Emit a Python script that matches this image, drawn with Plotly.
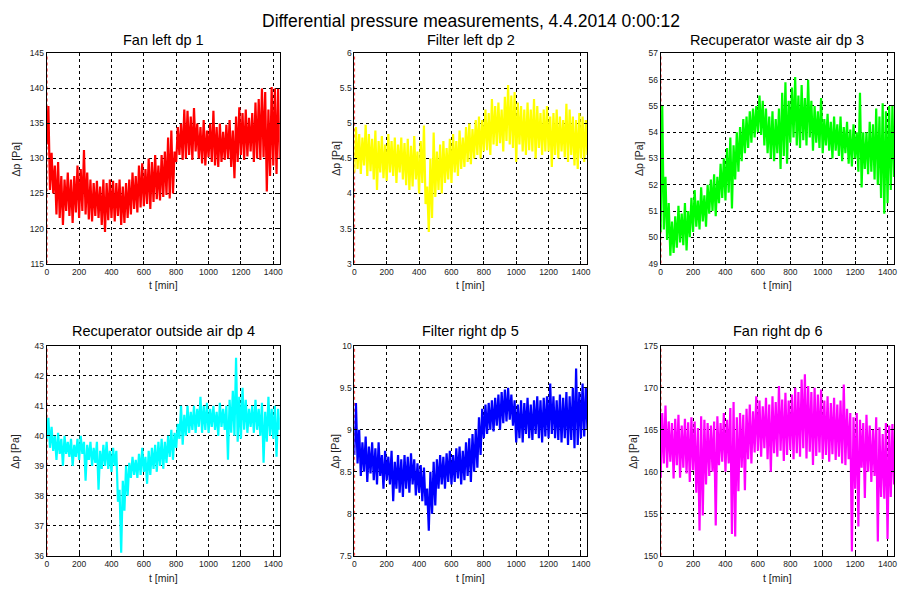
import plotly.graph_objects as go

# Sample times (minutes): troughs on the even 20-min marks, peaks in between
T_LO = list(range(0, 1441, 20))
T_HI = list(range(10, 1431, 20))

TITLES = ["Fan left dp 1", "Filter left dp 2", "Recuperator waste air dp 3",
          "Recuperator outside air dp 4", "Filter right dp 5", "Fan right dp 6"]
COLORS = ["#FF0000", "#FFFF00", "#00FF00", "#00FFFF", "#0000FF", "#FF00FF"]
Y_RANGES = [(115, 145), (3, 6), (49, 57), (36, 43), (7.5, 10), (150, 175)]
Y_DTICK = [5, 0.5, 1, 1, 0.5, 5]
X_TICKS = [0, 200, 400, 600, 800, 1000, 1200, 1400]
X_RANGE = (0, 1440)

# dp 1 - fan left
DP1_LO = [132, 125.5, 125, 122, 121.5, 120.5, 122.5, 121.8, 120.8, 122.3,
          121.5, 122.5, 122, 121.3, 121, 121.8, 121.5, 120.5, 119.5, 121.2,
          121.5, 121, 121.8, 120.5, 120.8, 121.5, 122, 122.8, 122.3, 123,
          123.2, 123.5, 122.8, 123.8, 124.2, 124, 124.5, 124.8, 124.3, 125,
          129.5, 130.5, 129.8, 130, 130.5, 129.8, 131, 130, 129.3, 129,
          130.2, 129.5, 129, 128.8, 129.5, 129.8, 130, 128.8, 127.2, 129.5,
          130.5, 129.8, 130.3, 131, 129.5, 130, 129.8, 130.2, 125.3, 127.5,
          129, 127.8, 130]
DP1_HI = [137.5, 130.8, 129, 129.5, 127.5, 127, 128, 127, 127.5, 129,
          128.5, 131.2, 128, 127, 126.5, 126.8, 126, 127, 126.5, 127,
          126.8, 126.5, 127, 126, 126.5, 127, 128, 127.5, 129, 129.3,
          128.5, 130, 129.5, 130.5, 129, 130.5, 131, 133, 134, 131,
          134.5, 135, 137, 136.8, 136, 137.2, 135, 134.5, 135.5, 134,
          135, 136.8, 134.5, 135, 133.8, 134.8, 135.5, 134, 136, 137.3,
          136.5, 137, 135.8, 136.5, 138, 138.5, 140, 139.5, 137, 140.2,
          140, 140]

# dp 2 - filter left
DP2_LO = [4.3, 4.35, 4.28, 4.4, 4.25, 4.32, 4.2, 4.05, 4.3, 4.22,
          4.18, 4.3, 4.25, 4.15, 4.3, 4.2, 4.12, 4.05, 4.1, 4.2,
          4.0, 4.15, 3.85, 3.45, 3.65, 3.95, 4.05, 4.0, 4.15, 4.2,
          4.15, 4.3, 4.25, 4.35, 4.38, 4.45, 4.42, 4.5, 4.55, 4.5,
          4.6, 4.62, 4.55, 4.7, 4.68, 4.72, 4.6, 4.75, 4.7, 4.65,
          4.45, 4.7, 4.6, 4.55, 4.62, 4.6, 4.5, 4.65, 4.55, 4.6,
          4.6, 4.38, 4.55, 4.5, 4.6, 4.52, 4.45, 4.55, 4.4, 4.35,
          4.5, 4.45, 4.55]
DP2_HI = [4.95, 4.85, 4.8, 4.98, 4.85, 4.78, 4.9, 4.75, 4.82, 4.7,
          4.85, 4.75, 4.8, 4.7, 4.8, 4.72, 4.78, 4.68, 4.82, 4.6,
          4.75, 4.97, 4.1, 4.5, 4.87, 4.6, 4.7, 4.75, 4.65, 4.78,
          4.85, 4.75, 4.9, 4.8, 4.95, 5.0, 4.92, 5.05, 5.1, 5.05,
          5.2, 5.15, 5.35, 5.25, 5.3, 5.2, 5.38, 5.55, 5.4, 5.45,
          5.3, 5.25, 5.2, 5.3, 5.2, 5.35, 5.25, 5.15, 5.2, 5.25,
          5.1, 5.15, 5.2, 5.1, 5.05, 5.28, 5.2, 5.1, 5.05, 5.15,
          5.1, 5.05]

# dp 3 - recuperator waste air
DP3_LO = [50.2, 50.3, 49.9, 49.3, 49.4, 49.6, 49.8, 49.7, 49.5, 50.0,
          50.2, 50.4, 50.3, 50.6, 50.4, 50.9, 51.0, 50.8, 51.3, 51.5,
          51.4, 51.7, 51.1, 52.2, 52.5, 52.9, 53.2, 53.4, 53.6, 53.8,
          54.0, 53.9, 53.5, 53.2, 53.0, 52.9, 53.2, 52.6, 53.1, 52.8,
          53.6, 53.8, 53.5, 53.4, 53.7, 53.5, 53.8, 53.3, 53.6, 53.4,
          53.2, 53.5, 53.3, 53.0, 53.3, 53.1, 52.9, 53.2, 52.8, 52.7,
          53.0, 52.5, 51.9, 52.6, 52.4, 52.5, 52.2, 52.0, 51.5, 50.9,
          51.3, 51.8, 52.3]
DP3_HI = [55.0, 52.3, 51.3, 50.6, 50.8, 51.2, 50.9, 51.3, 51.0, 51.5,
          51.8, 51.4, 51.9, 51.6, 52.0, 52.2, 52.4, 52.3, 52.8, 53.0,
          53.4, 53.8, 53.5, 54.0, 54.2, 54.5, 54.6, 54.8, 54.9, 55.0,
          55.4, 55.2, 54.9, 54.6, 54.8, 54.5, 54.9, 55.5, 55.9, 55.2,
          55.7, 56.1, 55.4, 55.8, 55.3, 56.0, 55.2, 55.0, 54.8, 55.3,
          54.5, 54.7, 54.4, 54.6, 54.3, 54.6, 54.2, 54.4, 54.1, 54.3,
          54.0, 55.5, 54.0, 54.0, 54.4, 54.3, 54.9, 54.6, 55.1, 54.8,
          55.0, 55.0]

# dp 4 - recuperator outside air
DP4_LO = [39.9, 39.6, 39.5, 39.2, 39.4, 39.0, 39.4, 39.3, 39.0, 39.3,
          39.2, 39.4, 38.5, 39.2, 39.0, 39.1, 38.2, 38.9, 39.0, 38.9,
          38.8, 39.0, 37.8, 36.1, 37.5, 38.0, 38.6, 38.7, 38.6, 38.7,
          38.8, 38.4, 38.7, 38.9, 38.8, 39.0, 38.9, 39.1, 39.3, 39.2,
          39.6, 39.9, 39.7, 40.0, 40.1, 40.2, 40.1, 40.3, 40.1, 40.2,
          40.1, 40.3, 40.2, 40.0, 40.3, 40.2, 39.2, 40.1, 40.0, 39.8,
          39.9, 40.2, 40.1, 40.3, 40.1, 40.2, 40.0, 39.1, 39.8, 40.0,
          39.9, 39.3, 40.2]
DP4_HI = [40.6, 40.3, 40.0, 40.1, 39.9, 40.0, 39.8, 39.9, 39.7, 39.9,
          40.0, 39.8, 39.7, 39.8, 39.6, 39.8, 39.5, 39.7, 39.8, 39.5,
          39.6, 39.5, 38.2, 38.5, 39.0, 39.1, 39.3, 39.2, 39.4, 39.6,
          39.3, 39.5, 39.6, 39.7, 39.8, 39.9, 39.8, 40.0, 40.2, 40.1,
          40.4, 41.0, 40.7, 41.0, 40.8, 41.0, 40.9, 41.3, 41.0, 41.1,
          40.9, 41.0, 40.8, 41.1, 40.9, 41.0, 41.2, 41.5, 42.6, 41.3,
          41.6, 41.2, 40.9, 41.0, 41.2, 40.9, 41.1, 40.8, 41.3, 40.9,
          41.0, 40.9]

# dp 5 - filter right
DP5_LO = [8.7, 8.6, 8.45, 8.5, 8.38, 8.48, 8.4, 8.35, 8.45, 8.3,
          8.4, 8.35, 8.15, 8.3, 8.25, 8.2, 8.3, 8.25, 8.35, 8.22,
          8.25, 8.15, 8.1, 7.8, 8.0, 8.1, 8.3, 8.35, 8.3, 8.38,
          8.35, 8.38, 8.42, 8.35, 8.4, 8.45, 8.38, 8.5, 8.55, 8.7,
          8.9, 8.95, 9.0, 8.98, 9.05, 9.0, 9.08, 9.1, 9.12, 9.05,
          8.85, 8.9, 8.85, 8.95, 8.9, 8.88, 8.95, 8.9, 8.85, 8.92,
          8.9, 8.95, 8.9, 8.88, 8.85, 8.9, 8.82, 8.88, 8.78, 8.82,
          8.9, 8.92, 9.0]
DP5_HI = [9.32, 9.0, 8.85, 8.92, 8.8, 8.85, 8.78, 8.85, 8.7, 8.75,
          8.68, 8.75, 8.62, 8.7, 8.65, 8.7, 8.68, 8.72, 8.65, 8.6,
          8.58, 8.55, 8.3, 8.5, 8.62, 8.65, 8.7, 8.68, 8.72, 8.75,
          8.7, 8.78, 8.8, 8.75, 8.85, 8.9, 8.95, 9.0, 9.15, 9.25,
          9.3, 9.32, 9.35, 9.38, 9.42, 9.45, 9.48, 9.5, 9.42, 9.35,
          9.3, 9.35, 9.32, 9.38, 9.3, 9.35, 9.4, 9.35, 9.38, 9.4,
          9.55, 9.4, 9.35, 9.42, 9.38, 9.45, 9.4, 9.5, 9.73, 9.45,
          9.55, 9.5]

# dp 6 - fan right
DP6_LO = [159.3, 161.0, 160.5, 161.2, 159.2, 160.8, 159.3, 160.5, 159.8, 158.8,
          160.2, 157.5, 153.0, 154.8, 158.5, 159.5, 160.0, 153.6, 160.8, 161.2,
          160.0, 161.0, 152.6, 152.3, 157.7, 160.5, 157.8, 161.5, 161.0, 162.3,
          162.5, 161.8, 162.8, 161.5, 160.0, 162.2, 161.8, 162.5, 161.3, 162.0,
          162.6, 161.5, 162.2, 161.8, 162.8, 161.6, 162.4, 160.8, 161.9, 162.3,
          161.5, 162.0, 161.2, 162.1, 161.4, 161.8, 161.0, 160.8, 161.5, 150.5,
          158.0, 153.5, 160.5, 156.9, 160.0, 158.8, 159.5, 151.7, 157.0, 156.8,
          152.0, 157.0, 158.5]
DP6_HI = [167.0, 167.9, 166.0, 165.8, 166.3, 166.8, 165.5, 166.3, 165.9, 166.5,
          166.0, 165.2, 166.6, 166.2, 165.8, 165.5, 166.0, 166.6, 165.8, 167.0,
          166.2, 167.6, 168.3, 166.5, 167.0, 166.8, 167.5, 168.0, 167.2, 169.0,
          168.5, 167.8, 168.8, 168.0, 169.0, 168.3, 170.2, 168.6, 169.4, 168.5,
          169.2, 170.0, 169.5, 171.0, 171.6, 170.2, 169.5, 170.0, 169.2, 169.8,
          168.5, 169.0, 168.2, 168.8, 168.0, 168.5, 170.4, 167.5, 167.0, 166.5,
          167.0, 166.2, 165.8, 166.8, 165.5, 165.0, 166.5, 165.3, 164.5, 165.8,
          165.5, 165.7]

SERIES = [(DP1_LO, DP1_HI), (DP2_LO, DP2_HI), (DP3_LO, DP3_HI),
          (DP4_LO, DP4_HI), (DP5_LO, DP5_HI), (DP6_LO, DP6_HI)]

# ---- page geometry (pixels) ----
W, H = 902, 590
COL_PX = [(45, 279.3), (354.3, 588.7), (662.3, 897)]
ROW_PX = [(49.3, 263), (346.7, 560.3)]
SUBTITLE_Y = [35.5, 332]
XLABEL_Y = [285, 582.7]
YLABEL_X = [14, 335, 640, 13, 334.5, 634.5]
FONT = "Liberation Sans, Arial, Helvetica, sans-serif"


def px_x(p):
    return p / W


def px_y(p):
    return 1 - p / H


def interleave(lo, hi):
    xs, ys = [], []
    for i in range(len(T_HI)):
        xs += [T_LO[i], T_HI[i]]
        ys += [lo[i], hi[i]]
    xs.append(T_LO[-1])
    ys.append(lo[-1])
    return xs, ys


fig = go.Figure()
annotations = []

for k in range(6):
    r, c = divmod(k, 3)
    lo, hi = SERIES[k]
    assert len(lo) == len(T_LO) and len(hi) == len(T_HI)
    xs, ys = interleave(lo, hi)
    xref = "x" if k == 0 else f"x{k + 1}"
    yref = "y" if k == 0 else f"y{k + 1}"
    ymin, ymax = Y_RANGES[k]

    # marker line at t = 0
    fig.add_trace(go.Scatter(x=[0, 0], y=[ymin, ymax], mode="lines",
                             line=dict(color="#FF0000", width=1.5, dash="dot"),
                             xaxis=xref, yaxis=yref, hoverinfo="skip",
                             showlegend=False))
    fig.add_trace(go.Scatter(x=xs, y=ys, mode="lines",
                             line=dict(color=COLORS[k], width=2.2),
                             xaxis=xref, yaxis=yref, showlegend=False,
                             name=TITLES[k]))

    x0, x1 = COL_PX[c]
    y0, y1 = ROW_PX[r]
    axis_common = dict(showline=True, linecolor="black", linewidth=1,
                       mirror="ticks", ticks="inside", ticklen=3,
                       tickcolor="black", showgrid=True, gridcolor="black",
                       gridwidth=1, griddash="dot", zeroline=False,
                       tickfont=dict(family=FONT, size=8.5, color="#222"),
                       fixedrange=True)
    xkey = "xaxis" if k == 0 else f"xaxis{k + 1}"
    ykey = "yaxis" if k == 0 else f"yaxis{k + 1}"
    fig.update_layout({
        xkey: dict(domain=[px_x(x0), px_x(x1)], range=list(X_RANGE),
                   tickvals=X_TICKS, anchor=yref, **axis_common),
        ykey: dict(domain=[px_y(y1), px_y(y0)], range=[ymin, ymax],
                   dtick=Y_DTICK[k], tick0=ymin, anchor=xref, **axis_common),
    })

    cx = (x0 + x1) / 2
    annotations.append(dict(text=TITLES[k], x=px_x(cx), y=px_y(SUBTITLE_Y[r]),
                            xref="paper", yref="paper", showarrow=False,
                            xanchor="center", yanchor="middle",
                            font=dict(family=FONT, size=14.5, color="black")))
    annotations.append(dict(text="t [min]", x=px_x(cx), y=px_y(XLABEL_Y[r]),
                            xref="paper", yref="paper", showarrow=False,
                            xanchor="center", yanchor="middle",
                            font=dict(family=FONT, size=10.5, color="#222")))
    annotations.append(dict(text="\u0394p [Pa]", x=px_x(YLABEL_X[k]),
                            y=px_y((y0 + y1) / 2), xref="paper", yref="paper",
                            showarrow=False, textangle=-90,
                            xanchor="center", yanchor="middle",
                            font=dict(family=FONT, size=10.5, color="#222")))

annotations.append(dict(text="Differential pressure measurements, 4.4.2014 0:00:12",
                        x=px_x((COL_PX[1][0] + COL_PX[1][1]) / 2), y=px_y(16.5),
                        xref="paper", yref="paper", showarrow=False,
                        xanchor="center", yanchor="middle",
                        font=dict(family=FONT, size=17.5, color="black")))

fig.update_layout(width=W, height=H, autosize=False,
                  margin=dict(l=0, r=0, t=0, b=0),
                  paper_bgcolor="white", plot_bgcolor="white",
                  annotations=annotations)

fig.write_html("out.html")
